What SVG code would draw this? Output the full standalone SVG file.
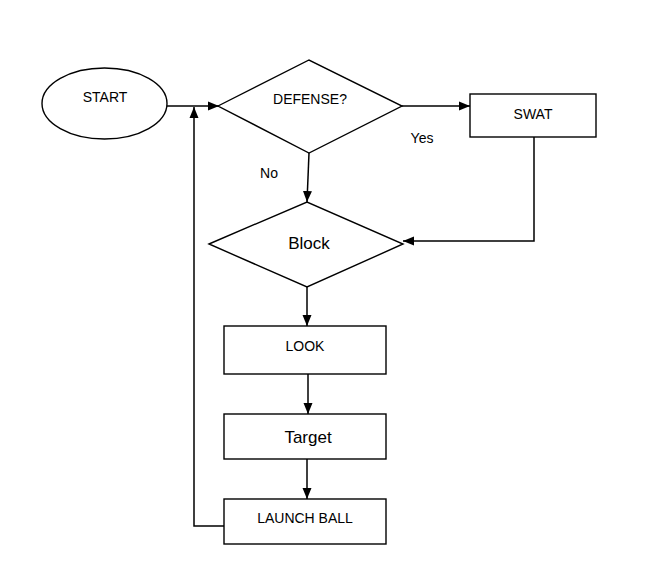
<svg xmlns="http://www.w3.org/2000/svg" width="653" height="580" viewBox="0 0 653 580">
<style>
.s{fill:#fff;stroke:#000;stroke-width:1.4}
.c{fill:none;stroke:#000;stroke-width:1.5}
text{font-family:"Liberation Sans",Arial,sans-serif;font-size:14px;fill:#000;text-anchor:middle}
.b{font-size:17px}
</style>
<defs>
<marker id="ah" markerUnits="userSpaceOnUse" markerWidth="12" markerHeight="10" refX="11" refY="5" orient="auto">
<path d="M0,0.5 L11,5 L0,9.5 Z" fill="#000"/>
</marker>
</defs>
<rect width="653" height="580" fill="#fff"/>
<g id="connectors">
<path class="c" d="M167,106 L219,106" marker-end="url(#ah)"/>
<path class="c" d="M224,526 L194,526 L194,107" marker-end="url(#ah)"/>
<path class="c" d="M402,106 L470,106" marker-end="url(#ah)"/>
<path class="c" d="M309,153 L307,202" marker-end="url(#ah)"/>
<path class="c" d="M534,137 L534,241 L403,241" marker-end="url(#ah)"/>
<path class="c" d="M307,287 L307,326" marker-end="url(#ah)"/>
<path class="c" d="M308,374 L308,414" marker-end="url(#ah)"/>
<path class="c" d="M307,459 L307,499" marker-end="url(#ah)"/>
<text x="422" y="143">Yes</text>
<text x="269" y="178">No</text>
</g>
<g id="start">
<ellipse class="s" cx="104.5" cy="103.5" rx="62.5" ry="35.5"/>
<text x="105" y="102">START</text>
</g>
<g id="defense">
<polygon class="s" points="218,106 309,60 402,106 309,153"/>
<text x="310" y="104">DEFENSE?</text>
</g>
<g id="swat">
<rect class="s" x="470" y="94" width="126" height="43"/>
<text x="533" y="119">SWAT</text>
</g>
<g id="block">
<polygon class="s" points="209,244 307,202 403,244 307,287"/>
<text class="b" x="309" y="249">Block</text>
</g>
<g id="look">
<rect class="s" x="224" y="326" width="162" height="48"/>
<text x="305" y="351">LOOK</text>
</g>
<g id="target">
<rect class="s" x="224" y="414" width="162" height="45"/>
<text class="b" x="308" y="443">Target</text>
</g>
<g id="launch">
<rect class="s" x="224" y="499" width="162" height="45"/>
<text x="305" y="523">LAUNCH BALL</text>
</g>
</svg>
